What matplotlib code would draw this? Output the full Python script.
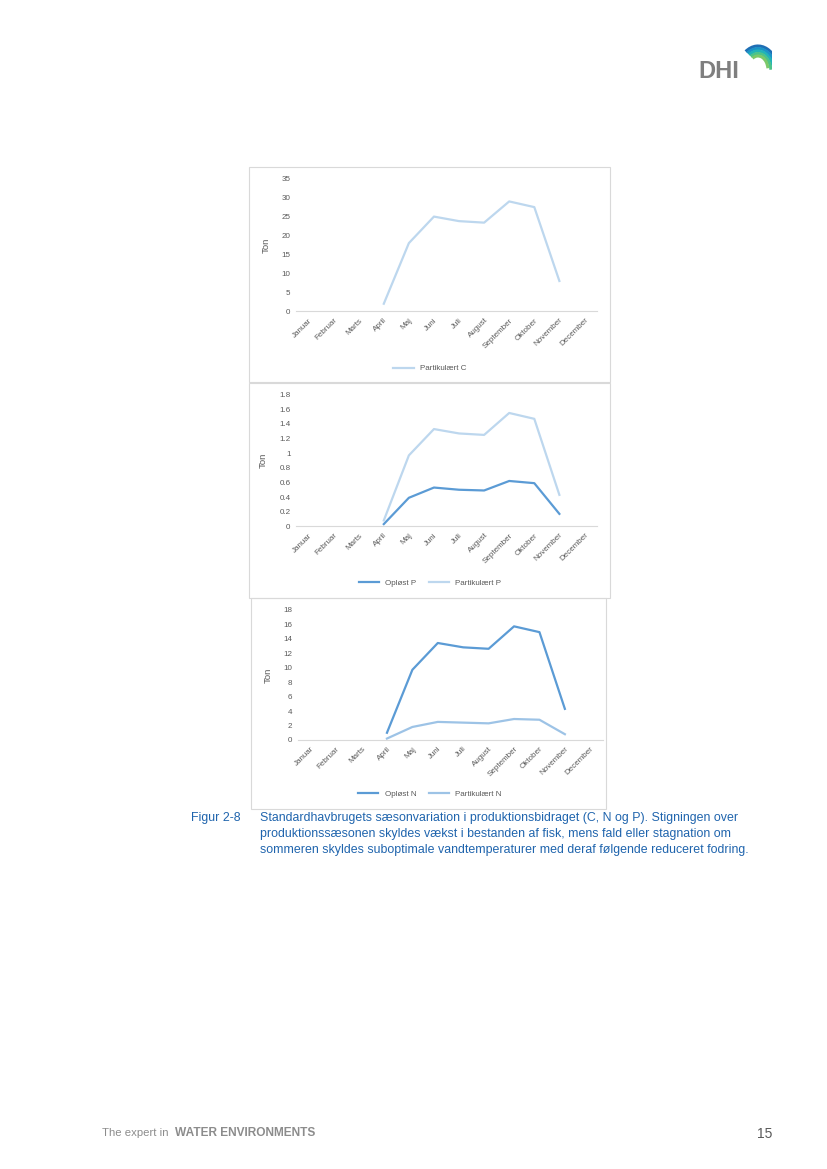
import numpy as np
import matplotlib
matplotlib.use('Agg')
import matplotlib.pyplot as plt
from matplotlib.patches import Rectangle, Arc

plt.rcParams['font.family'] = ['Liberation Sans', 'DejaVu Sans']

# Data
months = ['Januar', 'Februar', 'Marts', 'April', 'Maj', 'Juni', 'Juli',
          'August', 'September', 'Oktober', 'November', 'December']
nan = np.nan
part_c = [nan, nan, nan, 2.0, 18.0, 25.0, 23.8, 23.4, 29.0, 27.5, 8.0, nan]
oplost_p = [nan, nan, nan, 0.03, 0.39, 0.53, 0.50, 0.49, 0.62, 0.59, 0.17, nan]
part_p = [nan, nan, nan, 0.08, 0.97, 1.33, 1.27, 1.25, 1.55, 1.47, 0.43, nan]
oplost_n = [nan, nan, nan, 1.0, 9.7, 13.4, 12.8, 12.6, 15.7, 14.9, 4.3, nan]
part_n = [nan, nan, nan, 0.2, 1.8, 2.5, 2.4, 2.3, 2.9, 2.8, 0.8, nan]

W, H = 827, 1169
fig = plt.figure(figsize=(W / 100, H / 100), dpi=100)
fig.patch.set_facecolor('white')


def fx(x):
    return x / W


def fy(y):
    return 1 - y / H


def box(x0, y0, x1, y1):
    fig.patches.append(Rectangle((fx(x0), fy(y1)), fx(x1) - fx(x0), fy(y0) - fy(y1),
                                 transform=fig.transFigure, fill=False,
                                 edgecolor='#d9d9d9', linewidth=0.8))


def chart(x0, x1, ytop, ybot, ymax, step, series, leg_y, leg_x):
    ax = fig.add_axes([fx(x0), fy(ybot), fx(x1) - fx(x0), fy(ytop) - fy(ybot)])
    x = np.arange(12)
    for vals, col, lab in series:
        ax.plot(x, vals, color=col, linewidth=1.6, label=lab)
    ax.set_xlim(-0.5, 11.5)
    ax.set_ylim(0, ymax)
    ticks = np.arange(0, ymax + step / 2, step)
    ax.set_yticks(ticks)
    ax.set_yticklabels(['%g' % round(v, 1) for v in ticks])
    ax.set_xticks(x)
    ax.set_xticklabels(months, rotation=45, ha='right', rotation_mode='anchor')
    for s in ['top', 'right', 'left']:
        ax.spines[s].set_visible(False)
    ax.spines['bottom'].set_color('#d9d9d9')
    ax.spines['bottom'].set_linewidth(0.8)
    ax.tick_params(length=0, labelsize=5.8, colors='#595959', pad=4)
    ax.set_ylabel('Ton', fontsize=6.8, color='#595959', labelpad=8)
    ax.patch.set_alpha(0)
    fig.legend(loc='center', bbox_to_anchor=(fx(leg_x), fy(leg_y)), ncol=2,
               frameon=False, fontsize=5.8, labelcolor='#595959',
               handlelength=2.5, columnspacing=1.5, handles=ax.get_lines())
    return ax


c_dark = '#5b9bd5'
c_light = '#bdd7ee'
c_light_n = '#9dc3e6'

box(249, 167, 610, 382)
chart(296, 597, 178.7, 311.3, 35, 5, [(part_c, c_light, 'Partikulært C')], 368.5, 430)

box(249, 383, 610, 598)
chart(296, 597, 394.7, 526.3, 1.8, 0.2,
      [(oplost_p, c_dark, 'Opløst P'), (part_p, c_light, 'Partikulært P')], 583, 430)

box(251, 598, 606, 809)
chart(298, 603, 609.7, 740, 18, 2,
      [(oplost_n, c_dark, 'Opløst N'), (part_n, c_light_n, 'Partikulært N')], 794, 430)

# caption
cap_col = '#1f64ad'
fig.text(fx(191), fy(818), 'Figur 2-8', fontsize=8.9, color=cap_col, va='center')
caption = ['Standardhavbrugets sæsonvariation i produktionsbidraget (C, N og P). Stigningen over',
           'produktionssæsonen skyldes vækst i bestanden af fisk, mens fald eller stagnation om',
           'sommeren skyldes suboptimale vandtemperaturer med deraf følgende reduceret fodring.']
for i, line in enumerate(caption):
    fig.text(fx(260), fy(818 + 16 * i), line, fontsize=8.9, color=cap_col, va='center')

# footer
fig.text(fx(102), fy(1133), 'The expert in', fontsize=8.2, color='#8c8c8c', va='center')
fig.text(fx(175), fy(1133), 'WATER ENVIRONMENTS', fontsize=8.6, color='#8c8c8c',
         va='center', fontweight='bold')
fig.text(fx(772), fy(1134), '15', fontsize=10, color='#595959', va='center', ha='right')

# logo
fig.text(fx(698), fy(71), 'DHI', fontsize=17, fontweight='bold', color='#7f7f7f', va='center')
lax = fig.add_axes([fx(728), fy(80), fx(772) - fx(728), fy(38) - fy(80)])
lax.set_xlim(0, 44)
lax.set_ylim(0, 42)
lax.axis('off')
arc_cols = ['#1f6fb5', '#1c93c7', '#22b3b8', '#4cc38a', '#7cc96a']
for i, c in enumerate(arc_cols):
    lax.add_patch(Arc((30, 2 + 2 * i), 44 - 6 * i, 64 - 9 * i, theta1=10, theta2=115,
                      color=c, linewidth=2.2))

fig.savefig('out.png', dpi=100)
